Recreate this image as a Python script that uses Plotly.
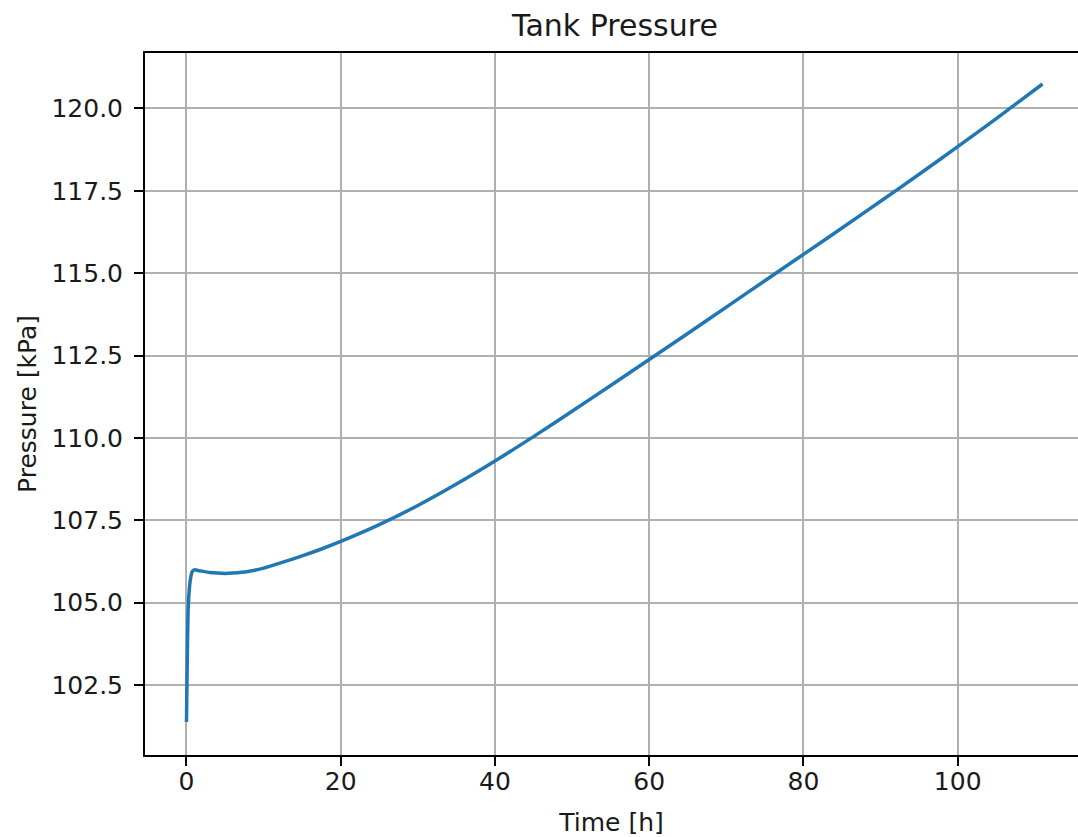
import plotly.graph_objects as go

# Data
time_h = [0, 0.1, 0.2, 0.3, 0.5, 0.75, 1.1, 1.5, 2, 3, 4, 5, 6, 8, 10, 12.5, 15, 17.5,
          20, 25, 30, 35, 40, 45, 50, 55, 60, 65, 70, 75, 80, 85, 90, 95, 100, 105, 111]
pressure_kpa = [101.38, 103.3, 104.7, 105.2, 105.7, 105.95, 106.0, 105.98, 105.96,
                105.92, 105.9, 105.89, 105.9, 105.95, 106.05, 106.23, 106.42, 106.63,
                106.86, 107.37, 107.95, 108.60, 109.30, 110.04, 110.81, 111.59, 112.38,
                113.17, 113.97, 114.77, 115.57, 116.37, 117.18, 118.00, 118.84, 119.69,
                120.74]

x_ticks = [0, 20, 40, 60, 80, 100]
y_ticks = [102.5, 105.0, 107.5, 110.0, 112.5, 115.0, 117.5, 120.0]
y_tick_labels = [f"{v:.1f}" for v in y_ticks]

FONT = "DejaVu Sans"
TXT = "#1a1a1a"

fig = go.Figure()
fig.add_trace(go.Scatter(
    x=time_h, y=pressure_kpa, mode="lines",
    line=dict(color="#1f77b4", width=3.5, shape="spline", smoothing=0.5),
    showlegend=False,
))

fig.update_layout(
    width=1078, height=837, autosize=False,
    margin=dict(l=145, r=0, t=53, b=82, pad=0),
    paper_bgcolor="white", plot_bgcolor="white",
    font=dict(family=FONT, size=25, color=TXT),
    title=dict(text="Tank Pressure", font=dict(family=FONT, size=30, color=TXT),
               x=615 / 1078, xref="container", xanchor="center",
               y=1 - 25 / 837, yref="container", yanchor="middle"),
)

fig.update_xaxes(
    range=[-5.38, 115.6], tickvals=x_ticks, ticktext=[str(v) for v in x_ticks],
    showgrid=True, gridcolor="#b0b0b0", gridwidth=1.8, zeroline=False,
    showline=True, linecolor="black", linewidth=2, mirror=True,
    ticks="outside", ticklen=9, tickwidth=2, tickcolor="black",
    ticklabelstandoff=-6,
    title=dict(text="Time [h]", font=dict(family=FONT, size=25, color=TXT), standoff=20),
)
fig.update_yaxes(
    range=[100.38, 121.68], tickvals=y_ticks, ticktext=y_tick_labels,
    showgrid=True, gridcolor="#b0b0b0", gridwidth=1.8, zeroline=False,
    showline=True, linecolor="black", linewidth=2, mirror=False,
    ticks="outside", ticklen=9, tickwidth=2, tickcolor="black",
    ticklabelstandoff=6,
    title=dict(text="Pressure [kPa]", font=dict(family=FONT, size=25, color=TXT), standoff=8),
)

fig.write_html("out.html")
